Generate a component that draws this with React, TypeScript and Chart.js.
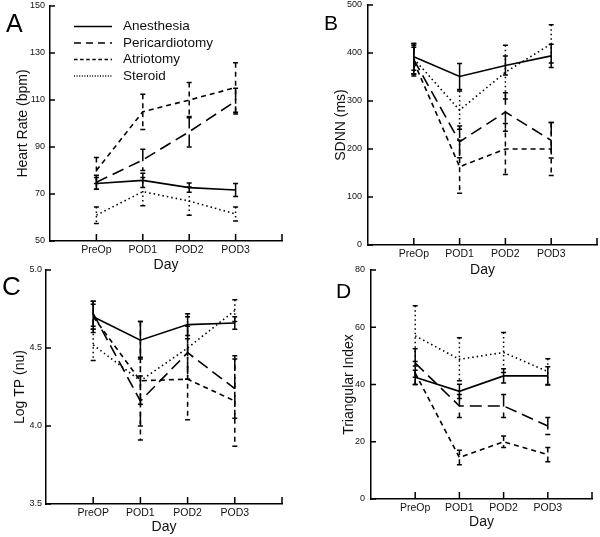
import React, { useEffect, useRef } from "react";
import { Chart, registerables } from "chart.js";

Chart.register(...registerables);

const FONT = "'Liberation Sans', Arial, sans-serif";
const NARROW = "'Liberation Sans Narrow', 'Liberation Sans', Arial, sans-serif";

// ---------- data ----------
const days = ["PreOp", "POD1", "POD2", "POD3"];
const daysC = ["PreOP", "POD1", "POD2", "POD3"];
const seriesNames = ["Anesthesia", "Pericardiotomy", "Atriotomy", "Steroid"];

// A: Heart Rate (bpm)
const hrAnesthesia = [74.5, 75.8, 72.7, 71.7];
const hrAnesthesiaErr = [2.5, 3, 2, 2.8];
const hrPericardiotomy = [75, 84.5, 96.5, 109.5];
const hrPericardiotomyErr = [3, 4.5, 6.5, 5.5];
const hrAtriotomy = [80, 105, 110, 115.3];
const hrAtriotomyErr = [5.5, 7.5, 7.5, 10.5];
const hrSteroid = [61, 71, 67, 61.5];
const hrSteroidErr = [3.5, 6, 6, 3];

// B: SDNN (ms)
const sdAnesthesia = [392, 351, 374, 394];
const sdAnesthesiaErr = [28, 27, 20, 24];
const sdPericardiotomy = [386, 215, 277, 218];
const sdPericardiotomyErr = [30, 33, 40, 37];
const sdAtriotomy = [382, 163, 200, 200];
const sdAtriotomyErr = [30, 55, 53, 55];
const sdSteroid = [388, 281, 360, 419];
const sdSteroidErr = [32, 40, 56, 40];

// C: Log TP (nu)
const tpAnesthesia = [4.7, 4.55, 4.65, 4.66];
const tpAnesthesiaErr = [0.08, 0.12, 0.07, 0.04];
const tpPericardiotomy = [4.72, 4.16, 4.47, 4.24];
const tpPericardiotomyErr = [0.08, 0.16, 0.17, 0.19];
const tpAtriotomy = [4.7, 4.29, 4.3, 4.16];
const tpAtriotomyErr = [0.1, 0.38, 0.26, 0.29];
const tpSteroid = [4.52, 4.29, 4.5, 4.74];
const tpSteroidErr = [0.1, 0.15, 0.2, 0.07];

// D: Triangular Index
const tiAnesthesia = [42.5, 37.6, 43, 43];
const tiAnesthesiaErr = [2.5, 2.5, 2.5, 3.2];
const tiPericardiotomy = [47.5, 32.5, 32.5, 25.5];
const tiPericardiotomyErr = [5, 4, 4, 3];
const tiAtriotomy = [44, 14.5, 20, 15.5];
const tiAtriotomyErr = [4, 2.5, 2, 2.5];
const tiSteroid = [57, 48.8, 51.2, 44.5];
const tiSteroidErr = [10.5, 7.5, 7, 4.5];

// ---------- styles ----------
const lineDashes = [[], [12, 6], [5, 4], [1.5, 3]];
const legendDashes = [[], [7, 5], [3.5, 2.6], [1, 1.6]];

type Panel = {
  labels: string[];
  yMin: number;
  yMax: number;
  yStep: number;
  decimals: number;
  yTitle: string;
  series: number[][];
  errors: number[][];
  letter: string;
  letterSize: number;
  letterX: number;
  letterY: number;
  area: { left: number; top: number; right: number; bottom: number };
  yTitleX: number;
  xTitleY: number;
  yPad: number;
  legend?: boolean;
};

const panels: Panel[] = [
  {
    labels: days, yMin: 50, yMax: 150, yStep: 20, decimals: 0, yTitle: "Heart Rate (bpm)",
    series: [hrAnesthesia, hrPericardiotomy, hrAtriotomy, hrSteroid],
    errors: [hrAnesthesiaErr, hrPericardiotomyErr, hrAtriotomyErr, hrSteroidErr],
    letter: "A", letterSize: 25, letterX: 6, letterY: 31.5,
    area: { left: 50, top: 6, right: 282, bottom: 241 }, yTitleX: 23, xTitleY: 265, yPad: 5, legend: true,
  },
  {
    labels: days, yMin: 0, yMax: 500, yStep: 100, decimals: 0, yTitle: "SDNN (ms)",
    series: [sdAnesthesia, sdPericardiotomy, sdAtriotomy, sdSteroid],
    errors: [sdAnesthesiaErr, sdPericardiotomyErr, sdAtriotomyErr, sdSteroidErr],
    letter: "B", letterSize: 21, letterX: 324, letterY: 30,
    area: { left: 368, top: 5, right: 597, bottom: 245 }, yTitleX: 341, xTitleY: 270, yPad: 6,
  },
  {
    labels: daysC, yMin: 3.5, yMax: 5.0, yStep: 0.5, decimals: 1, yTitle: "Log TP (nu)",
    series: [tpAnesthesia, tpPericardiotomy, tpAtriotomy, tpSteroid],
    errors: [tpAnesthesiaErr, tpPericardiotomyErr, tpAtriotomyErr, tpSteroidErr],
    letter: "C", letterSize: 26, letterX: 2, letterY: 295,
    area: { left: 46, top: 270, right: 282, bottom: 504 }, yTitleX: 20, xTitleY: 527, yPad: 4,
  },
  {
    labels: days, yMin: 0, yMax: 80, yStep: 20, decimals: 0, yTitle: "Triangular Index",
    series: [tiAnesthesia, tiPericardiotomy, tiAtriotomy, tiSteroid],
    errors: [tiAnesthesiaErr, tiPericardiotomyErr, tiAtriotomyErr, tiSteroidErr],
    letter: "D", letterSize: 21, letterX: 336, letterY: 298,
    area: { left: 371, top: 270, right: 592, bottom: 499 }, yTitleX: 349, xTitleY: 522, yPad: 6,
  },
];

const W = 600;
const H = 537;
const TITLE_SIZE = 14;
const HALF_LH = (TITLE_SIZE * 1.2) / 2;

const decorPlugin = {
  id: "decor",
  afterDatasetsDraw(chart: any, _args: any, opts: any) {
    const ctx = chart.ctx;
    const xs = chart.scales.x;
    const ys = chart.scales.y;
    ctx.save();
    ctx.strokeStyle = "#000";
    // error bars
    chart.data.datasets.forEach((ds: any, i: number) => {
      const meta = chart.getDatasetMeta(i);
      meta.data.forEach((pt: any, j: number) => {
        const v = ds.data[j].y;
        const e = ds.errors[j];
        const x = pt.x;
        const t = ys.getPixelForValue(v + e);
        const b = ys.getPixelForValue(v - e);
        ctx.lineWidth = 1.5;
        ctx.setLineDash(ds.borderDash || []);
        ctx.beginPath();
        ctx.moveTo(x, t);
        ctx.lineTo(x, b);
        ctx.stroke();
        ctx.setLineDash([]);
        ctx.beginPath();
        ctx.moveTo(x - 2.5, t);
        ctx.lineTo(x + 2.5, t);
        ctx.moveTo(x - 2.5, b);
        ctx.lineTo(x + 2.5, b);
        ctx.stroke();
      });
    });
    // inward tick marks
    ctx.setLineDash([]);
    ctx.lineWidth = 1.5;
    ctx.beginPath();
    xs.ticks.forEach((t: any) => {
      const px = xs.getPixelForValue(t.value);
      ctx.moveTo(px, xs.top);
      ctx.lineTo(px, xs.top - 7);
    });
    ys.ticks.forEach((t: any) => {
      const py = ys.getPixelForValue(t.value);
      ctx.moveTo(ys.right, py);
      ctx.lineTo(ys.right + 5, py);
    });
    ctx.stroke();
    // panel letter
    ctx.fillStyle = "#000";
    ctx.font = `${opts.letterSize}px ${FONT}`;
    ctx.textBaseline = "alphabetic";
    ctx.textAlign = "left";
    ctx.fillText(opts.letter, opts.letterX, opts.letterY);
    // legend
    if (opts.legend) {
      const rows = [26.5, 43, 59.5, 76];
      ctx.font = `13.5px ${FONT}`;
      ctx.textBaseline = "middle";
      chart.data.datasets.forEach((ds: any, i: number) => {
        ctx.lineWidth = 1.5;
        ctx.setLineDash(legendDashes[i]);
        ctx.beginPath();
        ctx.moveTo(74, rows[i]);
        ctx.lineTo(112, rows[i]);
        ctx.stroke();
        ctx.setLineDash([]);
        ctx.fillStyle = "#111";
        ctx.fillText(ds.label, 123, rows[i]);
      });
    }
    ctx.restore();
  },
};

function PanelChart({ p }: { p: Panel }) {
  const ref = useRef<HTMLCanvasElement | null>(null);
  useEffect(() => {
    if (!ref.current) return;
    const padLeft = p.yTitleX - HALF_LH;
    const yWidth = p.area.left - padLeft;
    const xBottom = p.xTitleY + HALF_LH;
    const xHeight = xBottom - p.area.bottom;
    const chart = new Chart(ref.current, {
      type: "line",
      data: {
        datasets: p.series.map((vals, i) => ({
          label: seriesNames[i],
          data: vals.map((v, j) => ({ x: j, y: v })),
          errors: p.errors[i],
          borderColor: "#000",
          borderWidth: 1.6,
          borderDash: lineDashes[i],
          pointRadius: 0,
          tension: 0,
          fill: false,
        })) as any,
      },
      options: {
        responsive: false,
        animation: false,
        events: [],
        layout: {
          padding: {
            left: padLeft,
            top: p.area.top,
            right: W - p.area.right,
            bottom: H - xBottom,
          },
        },
        plugins: {
          legend: { display: false },
          tooltip: { enabled: false },
          decor: {
            letter: p.letter,
            letterSize: p.letterSize,
            letterX: p.letterX,
            letterY: p.letterY,
            legend: !!p.legend,
          },
        } as any,
        scales: {
          x: {
            type: "linear",
            min: -1,
            max: 4,
            afterBuildTicks: (s: any) => {
              s.ticks = [0, 1, 2, 3, 4].map((v) => ({ value: v }));
            },
            afterFit: (s: any) => {
              s.height = xHeight;
              s.paddingLeft = 0;
              s.paddingRight = 0;
            },
            grid: { display: false, drawTicks: false, tickLength: 0 },
            border: { display: true, color: "#000", width: 1.5 },
            ticks: {
              autoSkip: false,
              maxRotation: 0,
              padding: 3,
              color: "#111",
              font: { family: NARROW, size: 10.5 },
              callback: (v: any) => p.labels[v] ?? "",
            },
            title: {
              display: true,
              text: "Day",
              color: "#111",
              padding: 0,
              font: { family: FONT, size: TITLE_SIZE },
            },
          },
          y: {
            type: "linear",
            min: p.yMin,
            max: p.yMax,
            afterFit: (s: any) => {
              s.width = yWidth;
              s.paddingTop = 0;
              s.paddingBottom = 0;
            },
            grid: { display: false, drawTicks: false, tickLength: 0 },
            border: { display: true, color: "#000", width: 1.5 },
            ticks: {
              stepSize: p.yStep,
              padding: p.yPad,
              color: "#111",
              font: { family: NARROW, size: 9 },
              callback: (v: any) => Number(v).toFixed(p.decimals),
            },
            title: {
              display: true,
              text: p.yTitle,
              color: "#111",
              padding: 0,
              font: { family: FONT, size: TITLE_SIZE },
            },
          },
        },
      },
      plugins: [decorPlugin],
    } as any);
    return () => chart.destroy();
  }, [p]);
  return (
    <canvas
      ref={ref}
      width={W}
      height={H}
      style={{ position: "absolute", left: 0, top: 0, width: W, height: H }}
    />
  );
}

export default function App() {
  return (
    <div
      style={{
        position: "absolute",
        left: 0,
        top: 0,
        width: W,
        height: H,
        background: "#fff",
        overflow: "hidden",
      }}
    >
      {panels.map((p) => (
        <PanelChart key={p.letter} p={p} />
      ))}
    </div>
  );
}
